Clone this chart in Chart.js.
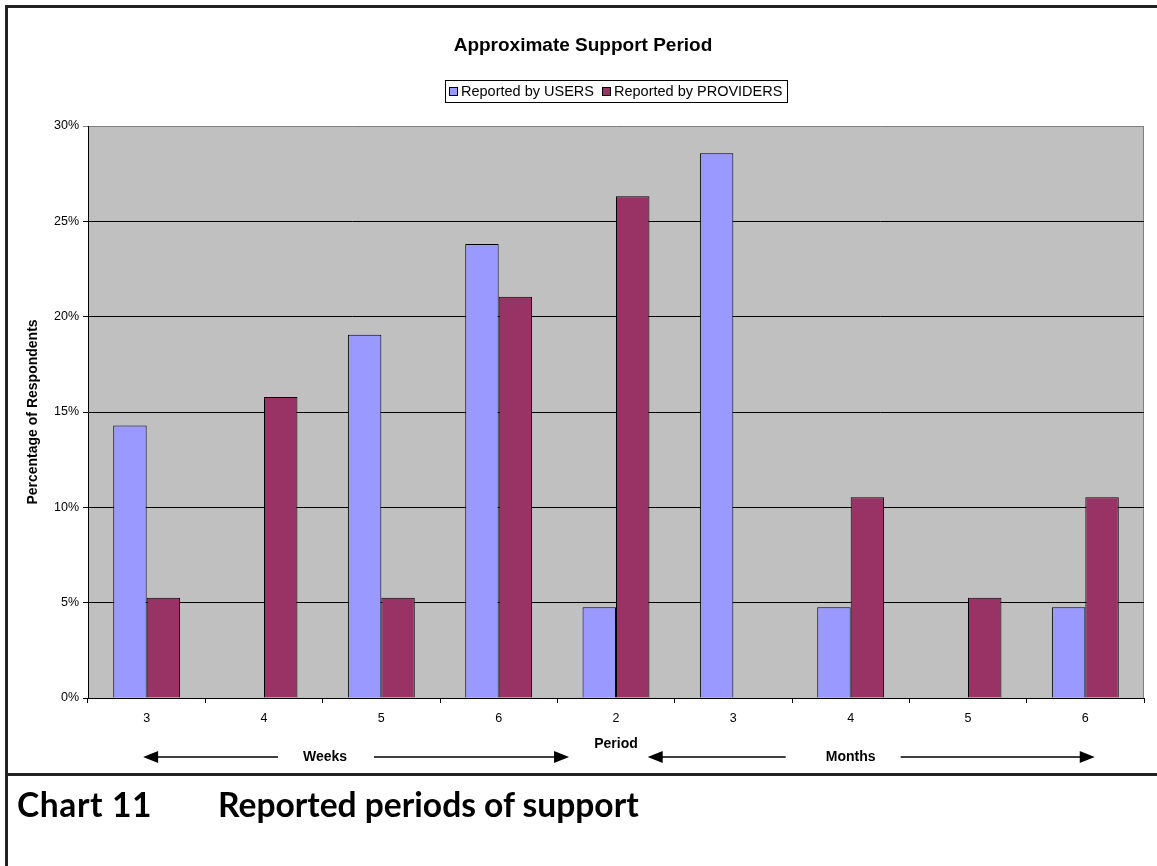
<!DOCTYPE html>
<html><head><meta charset="utf-8">
<script src="https://cdn.jsdelivr.net/npm/chart.js@4"></script>
<style>
body{margin:0;background:#fff;}
#wrap{position:relative;width:1157px;height:866px;overflow:hidden;background:#fff;}
canvas{position:absolute;left:0;top:0;}
.ln{position:absolute;background:#222;}
.cap{position:absolute;font-family:Lato,'Open Sans',sans-serif;font-weight:700;font-size:33.6px;line-height:33px;color:#000;white-space:nowrap;}
</style></head><body>
<div id="wrap">
<canvas id="c" width="1157" height="866"></canvas>
<div class="ln" style="left:5px;top:5px;width:1152px;height:3px"></div>
<div class="ln" style="left:5px;top:5px;width:3px;height:861px"></div>
<div class="ln" style="left:5px;top:773px;width:1152px;height:3px"></div>
<div class="cap" style="left:17px;top:788px;letter-spacing:0.6px">Chart 11</div>
<div class="cap" style="left:218px;top:788px">Reported periods of support</div>
</div>
<script>
const categories = ['3','4','5','6','2','3','4','5','6'];
const usersPct = [14.29, 0, 19.05, 23.81, 4.76, 28.57, 4.76, 0, 4.76];
const providersPct = [5.26, 15.79, 5.26, 21.05, 26.32, 0, 10.53, 5.26, 10.53];
const yTickLabels = ['0%','5%','10%','15%','20%','25%','30%'];
const seriesNames = ['Reported by USERS','Reported by PROVIDERS'];
const seriesColors = ['#9999FF','#993366'];
const chartTitle = 'Approximate Support Period';
const axisTitleY = 'Percentage of Respondents';
const axisTitleX = 'Period';
const groupLabels = ['Weeks','Months'];

const FONT = '"Liberation Sans", Arial, sans-serif';

function drawArrow(ctx, x1, x2, y, tx, text, gapL, gapR) {
  const hl = 15, hh = 6;
  ctx.beginPath();
  ctx.moveTo(x1 + hl - 1, y); ctx.lineTo(tx - gapL, y);
  ctx.moveTo(tx + gapR, y); ctx.lineTo(x2 - hl + 1, y);
  ctx.stroke();
  ctx.beginPath();
  ctx.moveTo(x1, y); ctx.lineTo(x1 + hl, y - hh); ctx.lineTo(x1 + hl, y + hh); ctx.closePath(); ctx.fill();
  ctx.beginPath();
  ctx.moveTo(x2, y); ctx.lineTo(x2 - hl, y - hh); ctx.lineTo(x2 - hl, y + hh); ctx.closePath(); ctx.fill();
  ctx.fillText(text, tx, y);
}

const decor = {
  id: 'decor',
  beforeDraw(chart) {
    const {ctx, chartArea: a} = chart;
    ctx.save();
    ctx.fillStyle = '#C0C0C0';
    ctx.fillRect(a.left, a.top, a.width, a.height);
    ctx.strokeStyle = '#808080';
    ctx.lineWidth = 1;
    ctx.beginPath();
    ctx.moveTo(Math.round(a.right) - 0.5, a.top);
    ctx.lineTo(Math.round(a.right) - 0.5, a.bottom);
    ctx.stroke();
    ctx.restore();
  },
  afterDraw(chart) {
    const ctx = chart.ctx;
    const xs = chart.scales.x;
    const a = chart.chartArea;
    const p = i => xs.getPixelForValue(i);
    const w = p(1) - p(0);
    ctx.save();
    ctx.fillStyle = '#000';
    ctx.textBaseline = 'middle';
    ctx.textAlign = 'center';
    ctx.font = 'bold 19px ' + FONT;
    ctx.fillText(chartTitle, 583, 46);

    // legend
    ctx.font = '14.5px ' + FONT;
    ctx.textAlign = 'left';
    const w1 = ctx.measureText(seriesNames[0]).width;
    const w2 = ctx.measureText(seriesNames[1]).width;
    const total = 4 + 12 + w1 + 8 + 12 + w2 + 5;
    const bx = Math.round((a.left + a.right) / 2 - total / 2), by = 80, bh = 22;
    ctx.fillStyle = '#fff';
    ctx.fillRect(bx, by, total, bh);
    ctx.strokeStyle = '#000'; ctx.lineWidth = 1;
    ctx.strokeRect(bx + 0.5, by + 0.5, Math.round(total), bh);
    let cx = bx + 4;
    [w1, w2].forEach((tw, k) => {
      ctx.fillStyle = seriesColors[k];
      ctx.fillRect(cx, by + 7, 9, 9);
      ctx.strokeRect(cx + 0.5, by + 7.5, 8, 8);
      ctx.fillStyle = '#000';
      ctx.fillText(seriesNames[k], cx + 12, by + bh / 2 + 1);
      cx += 12 + tw + 8;
    });

    // group arrows
    ctx.font = 'bold 14px ' + FONT;
    ctx.textAlign = 'center';
    ctx.lineWidth = 1.5;
    ctx.strokeStyle = '#000';
    ctx.fillStyle = '#000';
    drawArrow(ctx, p(0) - 0.03 * w, p(3) + 0.6 * w, 757, p(1) + 0.52 * w, groupLabels[0], 47, 49);
    drawArrow(ctx, p(4) + 0.27 * w, p(8) + 0.08 * w, 757, p(6), groupLabels[1], 65, 50);
    ctx.restore();
  }
};

new Chart(document.getElementById('c'), {
  type: 'bar',
  data: {
    labels: categories,
    datasets: [
      {label: seriesNames[0], data: usersPct, backgroundColor: seriesColors[0], borderColor: '#000', borderWidth: 1},
      {label: seriesNames[1], data: providersPct, backgroundColor: seriesColors[1], borderColor: '#000', borderWidth: 1}
    ]
  },
  options: {
    responsive: false,
    animation: false,
    devicePixelRatio: 1,
    categoryPercentage: 0.57,
    barPercentage: 1.0,
    layout: {padding: {left: 20, right: 13, top: 126, bottom: 113}},
    plugins: {legend: {display: false}, title: {display: false}, tooltip: {enabled: false}},
    scales: {
      x: {
        afterFit(s) { s.height = 55; },
        grid: {offset: true, drawOnChartArea: false, drawTicks: true, tickLength: 5, color: '#000'},
        border: {color: '#000', width: 1},
        ticks: {color: '#000', padding: 8, font: {family: FONT, size: 12.5}},
        title: {display: true, text: axisTitleX, color: '#000', padding: {top: 0, bottom: 0}, font: {family: FONT, size: 14, weight: 'bold'}}
      },
      y: {
        min: 0, max: 30,
        afterFit(s) { s.width = 68; },
        grid: {color: (c) => (c.tick && c.tick.value === 30 ? '#808080' : '#000'), lineWidth: 1, tickLength: 5},
        border: {color: '#000', width: 1},
        ticks: {stepSize: 5, color: '#000', padding: 4, font: {family: FONT, size: 12.5},
          callback: (v) => yTickLabels[Math.round(v / 5)]},
        title: {display: true, text: axisTitleY, color: '#000', padding: {top: 5, bottom: 0}, font: {family: FONT, size: 14, weight: 'bold'}}
      }
    }
  },
  plugins: [decor]
});
</script>
</body></html>
